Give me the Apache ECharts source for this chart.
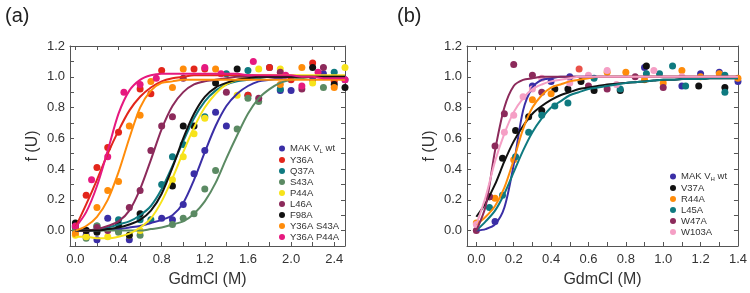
<!DOCTYPE html>
<html>
<head>
<meta charset="utf-8">
<script src="https://cdn.jsdelivr.net/npm/echarts@6/dist/echarts.min.js"></script>
<style>
  html, body { margin: 0; padding: 0; background: #fff; }
  #chart { width: 750px; height: 293px; }
</style>
</head>
<body>
<div id="chart"></div>
<script>
// --- ticks ---
const xTicksA = [0, 0.2, 0.4, 0.6, 0.8, 1.0, 1.2, 1.4, 1.6, 1.8, 2.0, 2.2, 2.4];
const xLabelsA = [0, 0.4, 0.8, 1.2, 1.6, 2.0, 2.4];
const xTicksB = [0, 0.1, 0.2, 0.3, 0.4, 0.5, 0.6, 0.7, 0.8, 0.9, 1.0, 1.1, 1.2, 1.3, 1.4];
const xLabelsB = [0, 0.2, 0.4, 0.6, 0.8, 1.0, 1.2, 1.4];
const yTicks = [-0.1, 0, 0.1, 0.2, 0.3, 0.4, 0.5, 0.6, 0.7, 0.8, 0.9, 1.0, 1.1, 1.2];
const yLabels = [0, 0.2, 0.4, 0.6, 0.8, 1.0, 1.2];

// --- panel (a): VL mutants, puntos medidos [x, f(U)] ---
const wtL_pts = [[0,0.03],[0.1,-0.03],[0.2,-0.06],[0.3,0.08],[0.4,0.0],[0.5,-0.06],[0.8,0.08],[0.9,0.07],[1.0,0.17],[1.1,0.37],[1.2,0.52],[1.3,0.77],[1.4,0.68],[1.6,0.88],[1.8,1.06],[1.9,0.91],[2.0,0.91],[2.2,0.98],[2.3,1.02],[2.5,0.98]];
const y36a_pts = [[0,0.0],[0.1,0.23],[0.2,0.41],[0.3,0.54],[0.4,0.64],[0.6,0.92],[0.7,0.89],[0.8,1.04],[1.1,1.05],[1.2,1.05],[1.6,0.88],[1.8,1.06],[2.0,0.98],[2.2,1.09],[2.4,0.97]];
const q37a_pts = [[0,0.02],[0.1,0.0],[0.2,0.03],[0.4,0.07],[0.6,0.07],[0.7,0.07],[0.8,0.3],[0.9,0.48],[1.0,0.56],[1.2,0.74],[1.4,1.02],[1.6,1.04],[1.9,0.92],[2.4,1.03]];
const s43a_pts = [[0,0.0],[0.1,-0.05],[0.2,0.03],[0.4,-0.01],[0.6,-0.03],[0.9,0.04],[1.0,0.08],[1.1,0.11],[1.2,0.27],[1.3,0.39],[1.5,0.66],[1.6,0.86],[1.7,0.84],[2.3,0.93]];
const p44a_pts = [[0,-0.03],[0.1,-0.04],[0.3,-0.04],[0.5,-0.03],[0.6,0.0],[0.9,0.33],[1.0,0.48],[1.1,0.63],[1.2,0.73],[1.5,0.88],[1.7,1.05],[1.9,1.05],[2.2,0.96],[2.5,1.06]];
const l46a_pts = [[0,0.03],[0.1,0.0],[0.2,0.02],[0.3,0.0],[0.5,0.15],[0.6,0.26],[0.7,0.52],[0.8,0.68],[0.9,0.74],[1.0,0.99],[1.4,0.9],[1.7,0.86],[1.9,1.03],[2.1,0.92],[2.3,1.06]];
const f98a_pts = [[0,0.05],[0.1,0.0],[0.2,-0.01],[0.4,0.04],[0.5,-0.03],[0.6,0.11],[0.9,0.29],[1.0,0.68],[1.1,0.68],[1.3,0.96],[1.5,1.05],[2.2,1.06],[2.4,0.95],[2.5,0.93]];
const y36aS43a_pts = [[0,-0.02],[0.2,0.15],[0.3,0.26],[0.4,0.32],[0.5,0.68],[0.6,0.75],[0.7,0.97],[0.9,0.93],[1.0,1.05],[1.3,1.05],[1.9,0.95],[2.1,1.06],[2.4,0.93]];
const y36aP44a_pts = [[0,0.03],[0.15,0.33],[0.3,0.48],[0.45,0.9],[0.6,0.95],[0.75,0.99],[1.2,1.06],[1.35,1.02],[1.65,1.1],[1.95,1.01],[2.1,0.94],[2.25,1.03],[2.5,0.98]];

// curvas de ajuste (y en fitXA)
const fitXA = [0,0.1,0.2,0.3,0.4,0.5,0.6,0.7,0.8,0.9,1.0,1.1,1.2,1.3,1.4,1.5,1.6,1.7,1.8,1.9,2.0,2.1,2.2,2.3,2.4,2.5];
const wtL_fit =      [0,0,0,0.01,0.01,0.02,0.03,0.05,0.07,0.1,0.18,0.33,0.51,0.68,0.81,0.89,0.94,0.97,0.98,0.99,1,1,1,1,1,1];
const y36a_fit =     [0.02,0.17,0.33,0.5,0.65,0.78,0.87,0.93,0.97,0.99,1,1.01,1.01,1.01,1.01,1.01,1.01,1.01,1.01,1,1,1,1,1,1,1];
const q37a_fit =     [0,0,0.01,0.02,0.04,0.06,0.1,0.16,0.27,0.42,0.58,0.73,0.84,0.91,0.95,0.97,0.98,0.99,1,1,1,1,1,1,1,1];
const s43a_fit =     [0,0,0,0,0,0,0,0.01,0.02,0.04,0.06,0.11,0.19,0.31,0.47,0.62,0.76,0.86,0.92,0.96,0.98,0.99,1,1,1,1];
const p44a_fit =     [-0.04,-0.04,-0.05,-0.05,-0.04,-0.02,0.02,0.08,0.19,0.34,0.51,0.67,0.8,0.89,0.95,0.98,1,1.01,1.01,1.01,1.01,1.01,1.01,1.01,1.01,1.01];
const l46a_fit =     [0,0,0.01,0.03,0.06,0.13,0.27,0.46,0.66,0.81,0.9,0.95,0.97,0.98,0.99,1,1,1,1,1,1,1,1,1,1,1];
const f98a_fit =     [0,0,0,0.01,0.02,0.04,0.07,0.13,0.24,0.41,0.6,0.76,0.87,0.93,0.96,0.98,0.99,1,1,1,1,1,1,1,1,1];
const y36aS43a_fit = [0,0.03,0.09,0.2,0.38,0.6,0.8,0.91,0.96,0.97,0.98,0.98,0.98,0.98,0.98,0.98,0.98,0.98,0.98,0.98,0.98,0.98,0.98,0.98,0.98,0.98];
const y36aP44a_fit = [0.02,0.12,0.29,0.52,0.76,0.91,0.98,1.01,1.02,1.02,1.02,1.02,1.02,1.02,1.02,1.02,1.01,1.01,1.01,1.01,1.01,1,1,0.99,0.99,0.99];

// --- panel (b): VH mutants ---
const wtH_pts = [[0.1,0.06],[0.3,0.94],[0.4,0.97],[0.5,1.0],[0.9,1.06],[1.1,0.94],[1.2,1.02],[1.3,1.03],[1.4,0.97]];
const v37a_pts = [[0.07,0.22],[0.14,0.47],[0.21,0.65],[0.28,0.74],[0.35,0.78],[0.42,0.92],[0.49,0.92],[0.56,0.97],[0.63,0.91],[0.77,0.91],[0.91,1.07],[1.19,0.94],[1.33,0.93]];
const r44a_pts = [[0,0.05],[0.1,0.21],[0.2,0.46],[0.3,0.85],[0.4,0.89],[0.7,1.03],[0.8,1.03],[0.9,0.98],[1.0,0.96],[1.1,1.04],[1.2,1.0],[1.3,1.02],[1.4,0.99]];
const l45a_pts = [[0.07,0.15],[0.14,0.23],[0.21,0.48],[0.28,0.64],[0.35,0.75],[0.42,0.81],[0.49,0.83],[0.63,0.99],[0.77,0.92],[0.91,1.02],[0.98,1.02],[1.05,1.07],[1.12,0.94],[1.33,0.9],[1.33,1.01]];
const w47a_pts = [[0,0.0],[0.07,0.22],[0.1,0.55],[0.15,0.76],[0.2,1.08],[0.3,1.01],[0.35,0.9],[0.6,0.94],[0.7,0.92],[0.85,1.0],[1.0,0.93]];
const w103a_pts = [[0,0.04],[0.15,0.64],[0.2,0.75],[0.25,0.87],[0.3,0.92],[0.35,0.99],[0.5,0.96],[0.6,1.01],[0.7,1.04],[0.75,0.95],[0.95,1.04],[1.1,1.0]];
const extra_pts = [[0.55,1.05]]; // punto rojo suelto

const fitXB = [0,0.05,0.1,0.15,0.2,0.25,0.3,0.35,0.4,0.45,0.5,0.55,0.6,0.65,0.7,0.75,0.8,0.85,0.9,0.95,1.0,1.05,1.1,1.15,1.2,1.25,1.3,1.35,1.4];
const wtH_fit =  [0,0.01,0.04,0.15,0.43,0.78,0.93,0.98,0.99,1,1,1,1,1,1,1,1,1,1,1,1,1,1,1,1,1,1,1,1];
const v37a_fit = [0.09,0.18,0.3,0.45,0.58,0.68,0.76,0.81,0.85,0.88,0.9,0.92,0.93,0.94,0.95,0.955,0.96,0.965,0.97,0.975,0.98,0.98,0.985,0.985,0.985,0.99,0.99,0.99,0.99];
const r44a_fit = [0.04,0.09,0.16,0.28,0.46,0.66,0.8,0.88,0.93,0.95,0.97,0.98,0.99,1,1,1,1,1,1,1,1,1,1,1,1,1,1,1,1];
const l45a_fit = [0,0.06,0.13,0.24,0.38,0.52,0.64,0.73,0.8,0.84,0.88,0.9,0.92,0.93,0.94,0.95,0.96,0.965,0.97,0.975,0.98,0.98,0.985,0.985,0.985,0.99,0.99,0.99,0.99];
const w47a_fit = [0,0.16,0.52,0.8,0.94,0.98,0.99,1,1,1,1,1,1,1,1,1,1,1,1,1,1,1,1,1,1,1,1,1,1];
const w103a_fit = [0.04,0.22,0.45,0.63,0.77,0.86,0.92,0.95,0.97,0.98,0.99,1,1,1,1,1,1,1,1,1,1,1,1,1,1,1,1,1,1];

const seriesA = [
  ["MAK V{s|L} wt", "#3a2ea6", wtL_pts, wtL_fit],
  ["Y36A", "#e3261b", y36a_pts, y36a_fit],
  ["Q37A", "#0f7a80", q37a_pts, q37a_fit],
  ["S43A", "#5b8a63", s43a_pts, s43a_fit],
  ["P44A", "#f7e31a", p44a_pts, p44a_fit],
  ["L46A", "#8c2a5b", l46a_pts, l46a_fit],
  ["F98A", "#111111", f98a_pts, f98a_fit],
  ["Y36A S43A", "#ff8c0a", y36aS43a_pts, y36aS43a_fit],
  ["Y36A P44A", "#e6197f", y36aP44a_pts, y36aP44a_fit],
];
const seriesB = [
  ["MAK V{s|H} wt", "#3a2ea6", wtH_pts, wtH_fit],
  ["V37A", "#111111", v37a_pts, v37a_fit],
  ["R44A", "#ff8c0a", r44a_pts, r44a_fit],
  ["L45A", "#0f7a80", l45a_pts, l45a_fit],
  ["W47A", "#8c2a5b", w47a_pts, w47a_fit],
  ["W103A", "#f59fc5", w103a_pts, w103a_fit],
];

const fmt = (v) => Number(v).toFixed(1);
const axisColor = "#555";
const FONT = "Liberation Sans";

function xAxes(grid, min, max, ticks, labels) {
  const base = {
    type: "value", gridIndex: grid, min: min, max: max,
    splitLine: { show: false },
    axisLine: { show: true, onZero: false, lineStyle: { color: axisColor, width: 1 } },
    axisTick: { show: true, inside: true, length: 4, customValues: ticks, lineStyle: { color: axisColor } },
  };
  return [
    Object.assign({}, base, {
      position: "bottom",
      name: "GdmCl (M)", nameLocation: "middle", nameGap: 26,
      nameTextStyle: { fontSize: 16, color: "#333", fontFamily: FONT },
      axisLabel: { customValues: labels, formatter: fmt, fontSize: 13, color: "#333", margin: 7, fontFamily: FONT },
    }),
    Object.assign({}, base, { position: "top", axisLabel: { show: false } }),
  ];
}

function yAxes(grid) {
  const base = {
    type: "value", gridIndex: grid, min: -0.1, max: 1.2,
    splitLine: { show: false },
    axisLine: { show: true, onZero: false, lineStyle: { color: axisColor, width: 1 } },
    axisTick: { show: true, inside: true, length: 4, customValues: yTicks, lineStyle: { color: axisColor } },
  };
  return [
    Object.assign({}, base, {
      position: "left",
      name: "f (U)", nameLocation: "middle", nameGap: 29,
      nameTextStyle: { fontSize: 16, color: "#333", fontFamily: FONT },
      axisLabel: { customValues: yLabels, formatter: fmt, fontSize: 13, color: "#333", margin: 5, fontFamily: FONT },
    }),
    Object.assign({}, base, { position: "right", axisLabel: { show: false } }),
  ];
}

function plainName(n) {
  return n.replace(/\{s\|(\w)\}/, "$1");
}

// arma scatter + curva de ajuste para cada mutante
function buildSeries(list, fitX, xi, yi) {
  const out = [];
  list.forEach(([name, color, pts, fit]) => {
    out.push({
      name: plainName(name), type: "scatter", data: pts,
      xAxisIndex: xi, yAxisIndex: yi,
      symbolSize: 7, itemStyle: { color: color, opacity: 1 }, z: 2,
    });
    out.push({
      name: plainName(name) + " fit", type: "line",
      data: fitX.map((x, i) => [x, fit[i]]),
      xAxisIndex: xi, yAxisIndex: yi,
      showSymbol: false, smooth: 0.3,
      lineStyle: { color: color, width: 2 }, itemStyle: { color: color }, z: 3,
    });
  });
  return out;
}

function legendFor(list, left, top) {
  const map = {};
  list.forEach(([name]) => (map[plainName(name)] = name));
  return {
    orient: "vertical", left: left, top: top,
    data: list.map(([name]) => plainName(name)),
    icon: "circle", itemWidth: 6, itemHeight: 6, itemGap: 1,
    selectedMode: false,
    formatter: (n) => map[n],
    textStyle: {
      fontSize: 9.5, color: "#333", lineHeight: 10, padding: [0, 0, 0, 0],
      fontFamily: FONT,
      rich: { s: { fontSize: 6, lineHeight: 10, padding: [5, 0, 0, 0], color: "#333" } },
    },
  };
}

const chart = echarts.init(document.getElementById("chart"));
chart.setOption({
  animation: false,
  backgroundColor: "#fff",
  title: [
    { text: "(a)", left: 0, top: 1, textStyle: { fontSize: 20, fontWeight: "normal", color: "#222", fontFamily: FONT } },
    { text: "(b)", left: 392, top: 1, textStyle: { fontSize: 20, fontWeight: "normal", color: "#222", fontFamily: FONT } },
  ],
  grid: [
    { left: 70, top: 46, width: 275, height: 203 },
    { left: 467, top: 46, width: 275, height: 203 },
  ],
  xAxis: [].concat(xAxes(0, -0.05, 2.5, xTicksA, xLabelsA), xAxes(1, -0.05, 1.4, xTicksB, xLabelsB)),
  yAxis: [].concat(yAxes(0), yAxes(1)),
  legend: [legendFor(seriesA, 274, 138), legendFor(seriesB, 665, 166)],
  series: [].concat(
    buildSeries(seriesA, fitXA, 0, 0),
    buildSeries(seriesB, fitXB, 2, 2),
    [{ name: "extra", type: "scatter", data: extra_pts, xAxisIndex: 2, yAxisIndex: 2, symbolSize: 7, itemStyle: { color: "#e3261b" } }]
  ),
});
</script>
</body>
</html>
